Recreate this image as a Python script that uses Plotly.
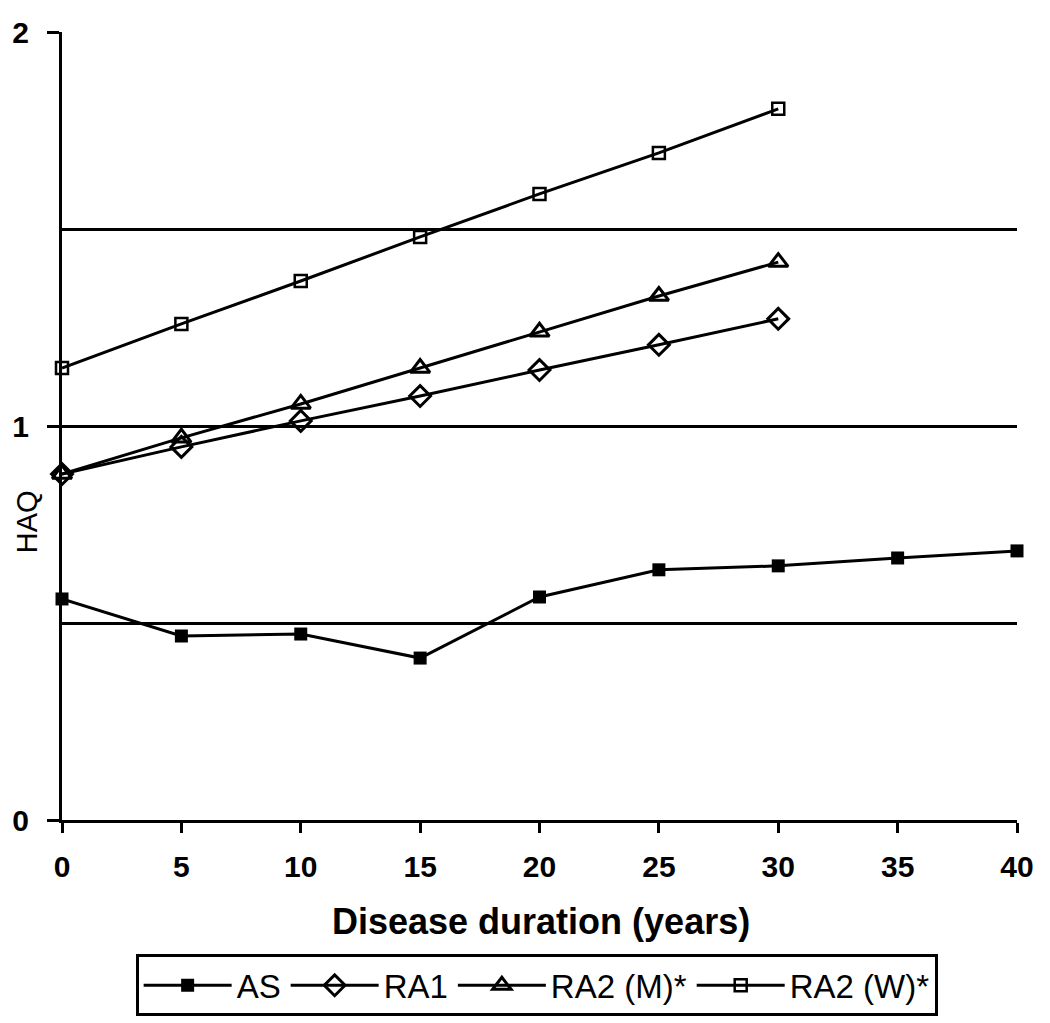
import plotly.graph_objects as go

years = [0, 5, 10, 15, 20, 25, 30, 35, 40]
as_vals = [0.561, 0.467, 0.472, 0.411, 0.566, 0.635, 0.645, 0.665, 0.683]
ra_years = [0, 5, 10, 15, 20, 25, 30]
ra1_vals = [0.878, 0.947, 1.013, 1.076, 1.142, 1.206, 1.272]
ra2m_vals = [0.878, 0.970, 1.056, 1.147, 1.239, 1.330, 1.416]
ra2w_vals = [1.147, 1.259, 1.368, 1.480, 1.589, 1.693, 1.805]

y_ticks = [0, 1, 2]
grid_vals = [0.5, 1, 1.5]
x_ticks = [0, 5, 10, 15, 20, 25, 30, 35, 40]

FONT = "Liberation Sans, Arial, sans-serif"
line = dict(color="black", width=3)

fig = go.Figure()
# invisible traces to activate the helper axes (grid lines, y tick labels)
fig.add_trace(go.Scatter(x=[None], y=[None], yaxis="y2", showlegend=False, hoverinfo="skip"))
fig.add_trace(go.Scatter(x=[None], y=[None], yaxis="y3", showlegend=False, hoverinfo="skip"))
fig.add_trace(go.Scatter(x=years, y=as_vals, name="AS", mode="lines+markers",
                         line=line, cliponaxis=False,
                         marker=dict(symbol="square", size=13, color="black")))
fig.add_trace(go.Scatter(x=ra_years, y=ra1_vals, name="RA1", mode="lines+markers",
                         line=line, cliponaxis=False,
                         marker=dict(symbol="diamond-open", size=16, color="black",
                                     line=dict(width=3, color="black"))))
fig.add_trace(go.Scatter(x=ra_years, y=ra2m_vals, name="RA2 (M)*", mode="lines+markers",
                         line=line, cliponaxis=False,
                         marker=dict(symbol="triangle-up-open", size=17, color="black",
                                     line=dict(width=3, color="black"))))
fig.add_trace(go.Scatter(x=ra_years, y=ra2w_vals, name="RA2 (W)*", mode="lines+markers",
                         line=line, cliponaxis=False,
                         marker=dict(symbol="square-open", size=12, color="black",
                                     line=dict(width=2.5, color="black"))))

fig.update_layout(
    width=1050, height=1023,
    margin=dict(l=62, r=33, t=32, b=203, autoexpand=False),
    paper_bgcolor="white", plot_bgcolor="white",
    font=dict(family=FONT, color="black"),
    showlegend=True,
    legend=dict(orientation="h", x=0.497, xanchor="center", y=-0.1705, yanchor="top",
                bordercolor="black", borderwidth=3,
                font=dict(size=33, family=FONT, color="black"),
                itemwidth=88, tracegroupgap=0),
    xaxis=dict(range=[0, 40], tickvals=x_ticks, ticks="outside", ticklen=10,
               tickwidth=3, tickcolor="black", showline=True, linecolor="black",
               linewidth=3, showgrid=False, zeroline=False, automargin=False,
               tickfont=dict(size=30, family=FONT, color="black", weight="bold"),
               ticklabelstandoff=8),
    yaxis=dict(range=[0, 2], tickvals=y_ticks, ticks="outside", ticklen=12,
               tickwidth=3, tickcolor="black", showline=True, linecolor="black",
               linewidth=3, showgrid=False, zeroline=False, automargin=False,
               showticklabels=False),
    yaxis2=dict(range=[0, 2], overlaying="y", tickvals=grid_vals, showticklabels=False,
                ticks="", showgrid=True, gridcolor="black", gridwidth=3,
                zeroline=False, showline=False, automargin=False),
    yaxis3=dict(range=[0, 2], overlaying="y", side="left", tickvals=y_ticks,
                ticks="outside", ticklen=26, tickcolor="rgba(0,0,0,0)",
                showgrid=False, zeroline=False, showline=False, automargin=False,
                tickfont=dict(size=30, family=FONT, color="black", weight="bold")),
    annotations=[
        dict(text="<b>Disease duration (years)</b>", xref="paper", yref="paper",
             x=0.502, y=-0.129, xanchor="center", yanchor="middle", showarrow=False,
             font=dict(size=36, family=FONT, color="black")),
        dict(text="HAQ", xref="paper", yref="paper", textangle=-90,
             x=-0.0365, y=0.378, xanchor="center", yanchor="middle", showarrow=False,
             font=dict(size=29, family=FONT, color="black")),
    ],
)

fig.write_html("out.html", config={"displayModeBar": False},
               post_script="document.body.style.margin='0';")
